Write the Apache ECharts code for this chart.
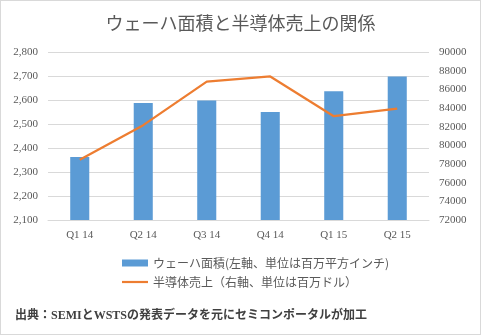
<!DOCTYPE html>
<html><head><meta charset="utf-8">
<script src="https://cdn.jsdelivr.net/npm/echarts@6/dist/echarts.min.js"></script>
<style>html,body{margin:0;padding:0;background:#fff}#c{width:481px;height:335px;box-sizing:border-box;border:1px solid #d9d9d9}</style>
</head><body><div id="c"></div>
<script>
const categories = ['Q1 14','Q2 14','Q3 14','Q4 14','Q1 15','Q2 15'];
const waferArea = [2362, 2587, 2598, 2550, 2636, 2698];
const semiSales = [78460, 82160, 86820, 87380, 83120, 83930];
const barName = 'ウェーハ面積(左軸、単位は百万平方インチ)';
const lineName = '半導体売上（右軸、単位は百万ドル）';
const chart = echarts.init(document.getElementById('c'));
const serif = '"Liberation Serif", "Noto Sans CJK JP", serif';
chart.setOption({
  animation: false,
  title: { text: 'ウェーハ面積と半導体売上の関係', left: 'center', top: 8,
    textStyle: { fontFamily: '"Noto Sans CJK JP"', fontSize: 18, fontWeight: 'normal', color: '#595959' } },
  grid: { left: 47, right: 51, top: 51, bottom: 114 },
  legend: { orient: 'vertical', left: 116, top: 251, itemGap: 7, itemWidth: 26, itemHeight: 7,
    textStyle: { fontFamily: '"Noto Sans CJK JP"', fontSize: 12, color: '#595959' },
    data: [{ name: barName, icon: 'rect' },
           { name: lineName, icon: 'path://M0,0 L26,0 L26,2.2 L0,2.2 Z' }] },
  xAxis: { type: 'category', data: categories,
    axisLine: { lineStyle: { color: '#d9d9d9' } }, axisTick: { show: false },
    axisLabel: { fontFamily: serif, fontSize: 11, color: '#595959', margin: 10 } },
  yAxis: [
    { type: 'value', min: 2100, max: 2800, interval: 100,
      axisLabel: { fontFamily: serif, fontSize: 11, color: '#595959', margin: 10,
        formatter: v => v.toLocaleString('en-US') },
      splitLine: { lineStyle: { color: '#d9d9d9' } } },
    { type: 'value', min: 72000, max: 90000, interval: 2000,
      axisLabel: { fontFamily: serif, fontSize: 11, color: '#595959', margin: 10,
        formatter: v => String(v) },
      splitLine: { show: false } }
  ],
  series: [
    { name: barName, type: 'bar', data: waferArea, barWidth: '30%', itemStyle: { color: '#5b9bd5' } },
    { name: lineName, type: 'line', yAxisIndex: 1, data: semiSales, showSymbol: false, symbol: 'none',
      lineStyle: { color: '#ed7d31', width: 2.25 }, itemStyle: { color: '#ed7d31' } }
  ],
  graphic: [{ type: 'text', left: 14, top: 309,
    style: { text: '出典：SEMIとWSTSの発表データを元にセミコンポータルが加工',
      font: 'bold 12px "Liberation Serif", "Noto Sans CJK JP"', fill: '#404040' } }]
});
</script></body></html>
